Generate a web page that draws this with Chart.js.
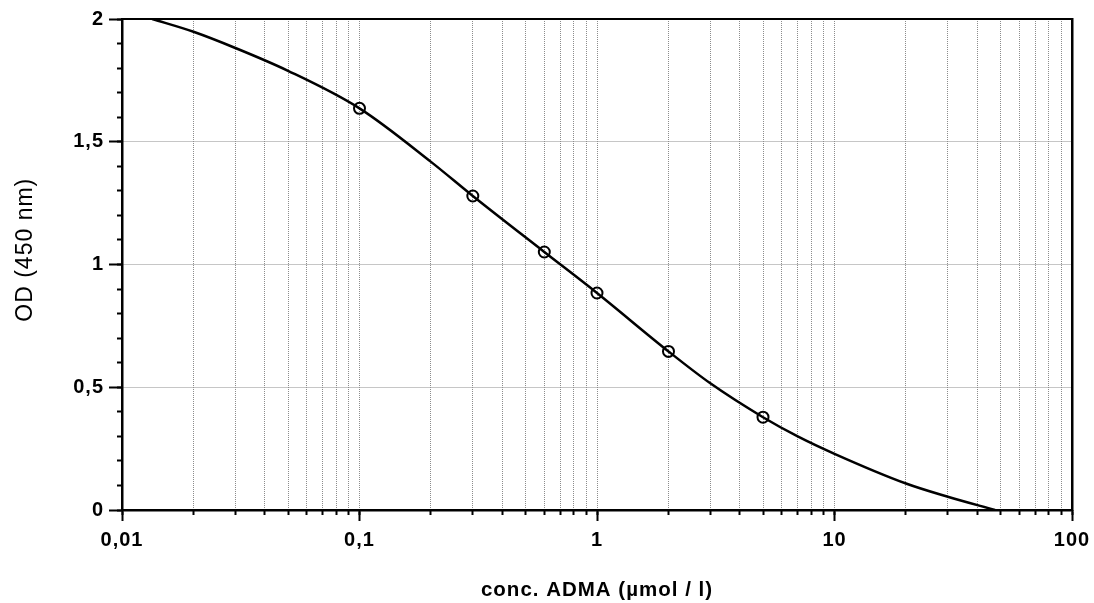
<!DOCTYPE html>
<html>
<head>
<meta charset="utf-8">
<script src="https://cdn.jsdelivr.net/npm/chart.js@4.4.1/dist/chart.umd.min.js"></script>
<style>
	html, body { margin: 0; background: #fff; }
	canvas { display: block; }
</style>
</head>
<body>
<canvas id="chart" width="1094" height="603"></canvas>
<script>
// standards (measured points)
const stdConc = [0.1, 0.3, 0.6, 1, 2, 5];
const stdOD = [1.636, 1.279, 1.051, 0.884, 0.646, 0.378];

// fitted curve
const fitConc = [0.0134, 0.02, 0.03, 0.05, 0.1, 0.2, 0.3, 0.6, 1, 2, 3, 5, 7, 10, 20, 30, 47.4];
const fitOD = [2.0, 1.948, 1.882, 1.789, 1.636, 1.418, 1.279, 1.051, 0.884, 0.646, 0.516, 0.378, 0.3, 0.229, 0.108, 0.054, 0];

// axes
const xMajor = [0.01, 0.1, 1, 10, 100];
const xLabels = ["0,01", "0,1", "1", "10", "100"];
const yLabels = ["0", "0,5", "1", "1,5", "2"];

const FONT = "'Liberation Sans', Arial, sans-serif";
const TICK_FONT = { family: FONT, size: 20, weight: "bold" };
const GRID = "#8c8c8c";

// every 1..9 x 10^n position for the log grid
const xGrid = [];
for (let d = 0; d < xMajor.length - 1; d++) {
	for (let k = 1; k <= 9; k++) xGrid.push(+(k * xMajor[d]).toPrecision(3));
}
xGrid.push(xMajor[xMajor.length - 1]);

const spacing = {
	id: "spacing",
	beforeLayout(c) { c.ctx.letterSpacing = "1px"; },
	beforeDraw(c) { c.ctx.letterSpacing = "1px"; },
};

new Chart(document.getElementById("chart"), {
	type: "line",
	data: {
		datasets: [
			{
				label: "Standards",
				data: stdConc.map((x, i) => ({ x, y: stdOD[i] })),
				showLine: false,
				pointRadius: 5.5,
				pointBorderWidth: 2,
				pointBorderColor: "#000",
				pointBackgroundColor: "rgba(0,0,0,0)",
				xAxisID: "x",
				yAxisID: "y",
			},
			{
				label: "Fit",
				data: fitConc.map((x, i) => ({ x, y: fitOD[i] })),
				borderColor: "#000",
				borderWidth: 2.5,
				pointRadius: 0,
				cubicInterpolationMode: "monotone",
				xAxisID: "x",
				yAxisID: "y",
			},
		],
	},
	options: {
		responsive: false,
		animation: false,
		devicePixelRatio: 1,
		layout: { padding: 0 },
		plugins: { legend: { display: false }, tooltip: { enabled: false } },
		scales: {
			x: {
				type: "logarithmic",
				position: "bottom",
				min: 0.01,
				max: 100,
				afterBuildTicks: (s) => { s.ticks = xMajor.map((v) => ({ value: v })); },
				afterFit: (s) => { s.height = 93; s.paddingLeft = 0; s.paddingRight = 0; },
				ticks: {
					autoSkip: false,
					maxRotation: 0,
					padding: 7,
					color: "#000",
					font: TICK_FONT,
					callback: (v, i) => xLabels[i],
				},
				grid: { drawOnChartArea: false, tickLength: 11, tickWidth: 2, tickColor: "#000" },
				border: { color: "#000", width: 2.5 },
				title: {
					display: true,
					text: "conc. ADMA (µmol / l)",
					color: "#000",
					font: { family: FONT, size: 20.5, weight: "bold" },
					padding: { top: 0, bottom: 0 },
				},
			},
			x2: {
				axis: "x",
				type: "logarithmic",
				position: { y: 0 },
				min: 0.01,
				max: 100,
				afterBuildTicks: (s) => { s.ticks = xGrid.map((v) => ({ value: v })); },
				ticks: { display: false, autoSkip: false },
				grid: {
					color: (ctx) => (ctx.tick && (ctx.tick.value === 0.01 || ctx.tick.value === 100) ? "rgba(0,0,0,0)" : GRID),
					lineWidth: 1,
					tickLength: 5,
					tickWidth: 2,
					tickColor: "#000",
				},
				border: { display: false, dash: [1, 1] },
			},
			x3: {
				axis: "x",
				type: "linear",
				position: "top",
				afterFit: (s) => { s.height = 19; },
				ticks: { display: false },
				grid: { display: false },
				border: { color: "#000", width: 2 },
			},
			y: {
				type: "linear",
				position: "left",
				min: 0,
				max: 2,
				afterFit: (s) => { s.width = 122; },
				ticks: {
					stepSize: 0.5,
					padding: 5,
					color: "#000",
					font: TICK_FONT,
					callback: (v, i) => yLabels[i],
				},
				grid: {
					color: (ctx) => (ctx.tick && ctx.tick.value > 0 && ctx.tick.value < 2 ? GRID : "rgba(0,0,0,0)"),
					lineWidth: 1,
					tickLength: 13,
					tickWidth: 2,
					tickColor: "#000",
				},
				border: { color: "#000", width: 2.5, dash: [1, 1] },
				title: {
					display: true,
					// leading spaces lift the title a little above the axis centre, as in the original
					text: "    OD (450 nm)",
					color: "#000",
					font: { family: FONT, size: 23 },
					padding: { top: 12, bottom: 0 },
				},
			},
			y2: {
				axis: "y",
				type: "linear",
				position: { x: 0.01 },
				min: 0,
				max: 2,
				ticks: { display: false, stepSize: 0.1 },
				grid: { drawOnChartArea: false, tickLength: 5, tickWidth: 2, tickColor: "#000" },
				border: { display: false },
			},
			y3: {
				axis: "y",
				type: "linear",
				position: "right",
				afterFit: (s) => { s.width = 22; },
				ticks: { display: false },
				grid: { display: false },
				border: { color: "#000", width: 2.5 },
			},
		},
	},
	plugins: [spacing],
});
</script>
</body>
</html>
